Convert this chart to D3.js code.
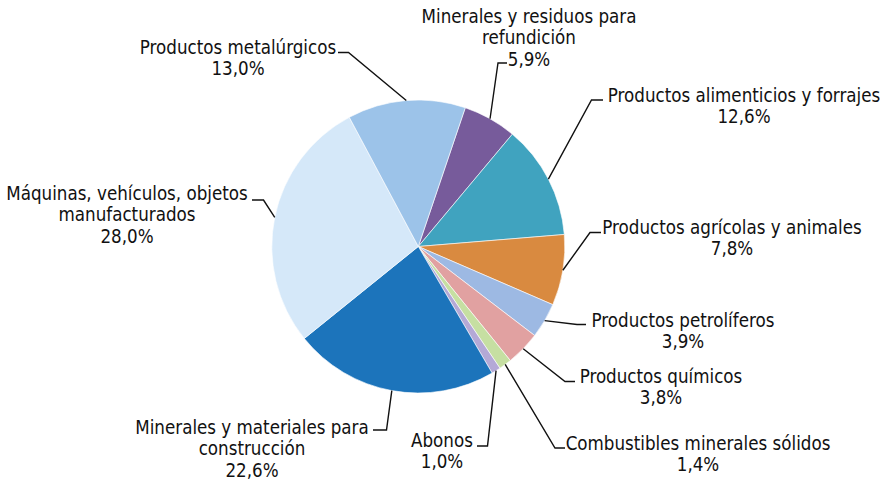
<!DOCTYPE html>
<html>
<head>
<meta charset="utf-8">
<script src="https://cdn.jsdelivr.net/npm/d3@7"></script>
<style>
  html, body { margin: 0; padding: 0; background: #fff; }
  svg text { font-family: "DejaVu Sans Condensed", "DejaVu Sans", sans-serif; font-size: 18.6px; fill: #111; }
</style>
</head>
<body>
<svg id="chart" width="886" height="484"></svg>
<script>
// ---- data ----
const categories = [
  "Minerales y residuos para refundición",
  "Productos alimenticios y forrajes",
  "Productos agrícolas y animales",
  "Productos petrolíferos",
  "Productos químicos",
  "Combustibles minerales sólidos",
  "Abonos",
  "Minerales y materiales para construcción",
  "Máquinas, vehículos, objetos manufacturados",
  "Productos metalúrgicos"
];
const values = [5.9, 12.6, 7.8, 3.9, 3.8, 1.4, 1.0, 22.6, 28.0, 13.0];
const labelLines = [
  ["Minerales y residuos para", "refundición"],
  ["Productos alimenticios y forrajes"],
  ["Productos agrícolas y animales"],
  ["Productos petrolíferos"],
  ["Productos químicos"],
  ["Combustibles minerales sólidos"],
  ["Abonos"],
  ["Minerales y materiales para", "construcción"],
  ["Máquinas, vehículos, objetos", "manufacturados"],
  ["Productos metalúrgicos"]
];
const colors = ["#775b9b", "#40a3bf", "#d98a40", "#9db9e3", "#e1a1a1",
                "#c6dfa2", "#b4a9d6", "#1c74bb", "#d5e8f9", "#9cc3e9"];

// ---- layout (label anchors, elbow points) ----
// tx,ty: text center x, first-line center y; ex,ey: elbow; hx: end of horizontal segment
const layout = [
  {tx: 529, ty: 16,  ex: 498,   ey: 63,    hx: 507},
  {tx: 744, ty: 95,  ex: 591.5, ey: 100,   hx: 603},
  {tx: 732, ty: 227, ex: 590,   ey: 232.5, hx: 601},
  {tx: 683, ty: 320, ex: 577,   ey: 324.5, hx: 586},
  {tx: 661, ty: 376, ex: 565,   ey: 381.5, hx: 575},
  {tx: 698, ty: 443, ex: 555,   ey: 448,   hx: 565},
  {tx: 442, ty: 440, ex: 487.5, ey: 446,   hx: 477},
  {tx: 252, ty: 427, ex: 386.5, ey: 430,   hx: 373},
  {tx: 127, ty: 193, ex: 263.5, ey: 200,   hx: 252},
  {tx: 238, ty: 47,  ex: 348.5, ey: 52.5,  hx: 338}
];

const cx = 418.3, cy = 246.5, R = 146.5;
const startDeg = 18.7;
const lineH = 21.8;

const svg = d3.select("#chart");
const g = svg.append("g").attr("transform", `translate(${cx},${cy})`);

const pie = d3.pie()
  .value(d => d)
  .sort(null)
  .startAngle(startDeg * Math.PI / 180)
  .endAngle(startDeg * Math.PI / 180 + 2 * Math.PI);
const arcs = pie(values);
const arc = d3.arc().innerRadius(0).outerRadius(R);

g.selectAll("path.slice")
  .data(arcs)
  .join("path")
  .attr("class", "slice")
  .attr("d", arc)
  .attr("fill", (d, i) => colors[i])
  .attr("stroke", "#fff")
  .attr("stroke-width", 0.6);

const fmt = v => v.toFixed(1).replace(".", ",") + "%";

// leader lines
arcs.forEach((a, i) => {
  const mid = (a.startAngle + a.endAngle) / 2;
  const px = cx + R * Math.sin(mid), py = cy - R * Math.cos(mid);
  const L = layout[i];
  svg.append("polyline")
    .attr("points", `${px},${py} ${L.ex},${L.ey} ${L.hx},${L.ey}`)
    .attr("fill", "none")
    .attr("stroke", "#111")
    .attr("stroke-width", 1.4);
});

// labels
arcs.forEach((a, i) => {
  const L = layout[i];
  const lines = labelLines[i].concat([fmt(values[i])]);
  const t = svg.append("text")
    .attr("text-anchor", "middle");
  lines.forEach((s, k) => {
    t.append("tspan")
      .attr("x", L.tx)
      .attr("y", L.ty + k * lineH)
      .attr("dy", "0.35em")
      .text(s);
  });
});
</script>
</body>
</html>
